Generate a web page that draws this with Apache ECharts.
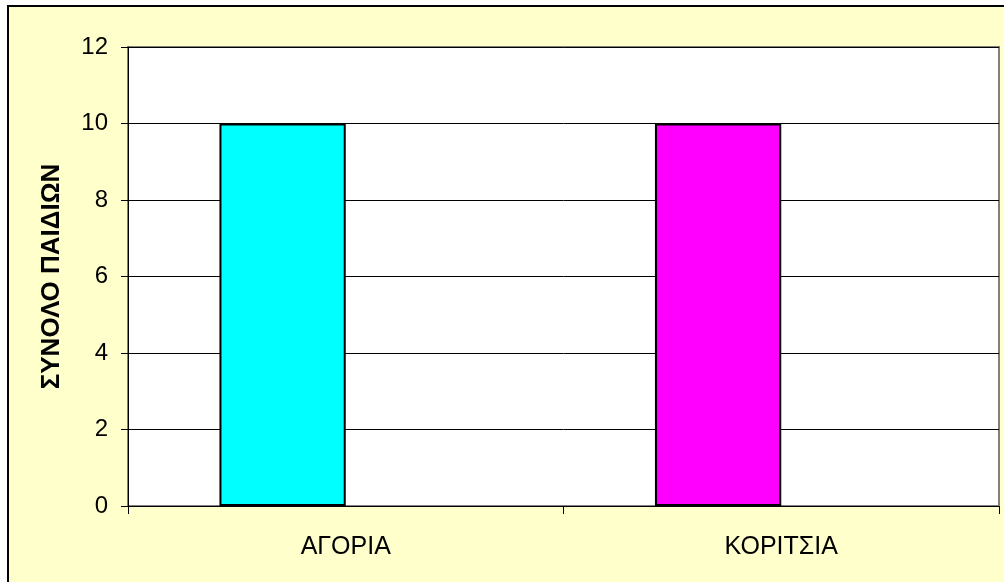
<!DOCTYPE html>
<html>
<head>
<meta charset="utf-8">
<style>
  html, body { margin: 0; padding: 0; background: #ffffff; }
  #chart { width: 1004px; height: 582px; }
</style>
<script src="https://cdn.jsdelivr.net/npm/echarts@6/dist/echarts.min.js"></script>
</head>
<body>
<div id="chart"></div>
<script>
// Number of children by group
const categories = ['ΑΓΟΡΙΑ', 'ΚΟΡΙΤΣΙΑ'];
const totals = [10, 10];
const barColors = ['#00ffff', '#ff00ff'];
// second (empty) series slot of the clustered layout
const emptySeries = ['-', '-'];
const yTicks = { min: 0, max: 12, step: 2 };
const yTitle = 'ΣΥΝΟΛΟ ΠΑΙΔΙΩΝ';

const FONT = '"Liberation Sans", Arial, sans-serif';

const chart = echarts.init(document.getElementById('chart'), null, { renderer: 'canvas' });

chart.setOption({
  backgroundColor: '#ffffff',
  animation: false,
  textStyle: { fontFamily: FONT, color: '#000' },
  graphic: [
    {
      type: 'rect',
      z: -10,
      shape: { x: 8, y: 6, width: 1100, height: 700 },
      style: { fill: '#ffffcc', stroke: '#000000', lineWidth: 2 }
    }
  ],
  grid: {
    left: 128, top: 47, right: 5, bottom: 76,
    show: true,
    backgroundColor: '#ffffff',
    borderColor: '#808080',
    borderWidth: 2
  },
  xAxis: {
    type: 'category',
    data: categories,
    boundaryGap: true,
    axisLine: { show: true, lineStyle: { color: '#000', width: 1 } },
    axisTick: { show: true, length: 8, lineStyle: { color: '#000', width: 1 } },
    axisLabel: { fontFamily: FONT, fontSize: 25, color: '#000', margin: 29 },
    splitLine: { show: false }
  },
  yAxis: {
    type: 'value',
    min: yTicks.min,
    max: yTicks.max,
    interval: yTicks.step,
    name: yTitle,
    nameLocation: 'middle',
    nameRotate: 90,
    nameGap: 63,
    nameTextStyle: { fontFamily: FONT, fontSize: 26, fontWeight: 'bold', color: '#000' },
    axisLine: { show: true, lineStyle: { color: '#000', width: 1 } },
    axisTick: { show: true, length: 7, lineStyle: { color: '#000', width: 1 } },
    axisLabel: { fontFamily: FONT, fontSize: 24, color: '#000', margin: 20 },
    splitLine: { show: true, lineStyle: { color: '#000', width: 1 } }
  },
  series: [
    {
      type: 'bar',
      barGap: '0%',
      barCategoryGap: '42%',
      data: totals.map((v, i) => ({
        value: v,
        itemStyle: { color: barColors[i], borderColor: '#000', borderWidth: 2 }
      }))
    },
    {
      type: 'bar',
      data: emptySeries
    }
  ]
});
</script>
</body>
</html>
